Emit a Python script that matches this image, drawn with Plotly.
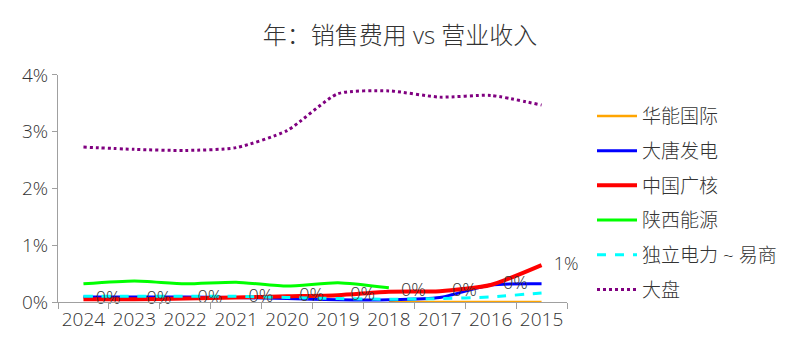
import plotly.graph_objects as go

years = ["2024", "2023", "2022", "2021", "2020", "2019", "2018", "2017", "2016", "2015"]
huaneng = [None, None, None, None, None, None, 0.0000, 0.0000, 0.0000, 0.0000]
datang = [0.0009, 0.0009, 0.0009, 0.0008, 0.0006, 0.0004, 0.0004, 0.0008, 0.0030, 0.0032]
cgn = [0.0005, 0.0005, 0.0006, 0.0008, 0.0010, 0.0012, 0.0018, 0.0019, 0.0030, 0.0065]
shaanxi = [0.0032, 0.0037, 0.0032, 0.0035, 0.0028, 0.0034, 0.0025, None, None, None]
indep = [0.0010, 0.0010, 0.0010, 0.0010, 0.0008, 0.0006, 0.0005, 0.0006, 0.0009, 0.0016]
market = [0.0273, 0.0269, 0.0267, 0.0272, 0.0302, 0.0367, 0.0372, 0.0361, 0.0364, 0.0347]
y_ticks = [0, 0.01, 0.02, 0.03, 0.04]

FONT = "Open Sans, Noto Sans CJK SC"
TXT = "#333333"

series = [
    ("华能国际", huaneng, "#FFA500", 2.5, "solid"),
    ("大唐发电", datang, "#0000FF", 3, "solid"),
    ("中国广核", cgn, "#FF0000", 4, "solid"),
    ("陕西能源", shaanxi, "#00FF00", 3, "solid"),
    ("独立电力 ~ 易商", indep, "#00FFFF", 3, "dash"),
    ("大盘", market, "#800080", 3, "dot"),
]

fig = go.Figure()
for i, (name, vals, color, w, dash) in enumerate(series):
    fig.add_trace(go.Scatter(
        x=years, y=vals, name=name, mode="lines",
        line=dict(color=color, width=w, dash=dash, shape="spline", smoothing=0.6),
        legendgroup=f"g{i}",
    ))

fig.add_trace(go.Scatter(
    x=years, y=cgn, mode="markers+text", showlegend=False,
    marker=dict(size=18, opacity=0),
    texttemplate="%{y:.0%}", textposition="middle right",
    textfont=dict(family=FONT, size=18, color=TXT, weight=300),
    hoverinfo="skip", cliponaxis=False,
))

fig.update_layout(
    width=800, height=353,
    margin=dict(l=58, r=233, t=20, b=20, autoexpand=False),
    paper_bgcolor="white", plot_bgcolor="white",
    font=dict(family=FONT, size=18, color=TXT, weight=300),
    title=dict(text="年：销售费用 vs 营业收入", x=0.5, xref="container", xanchor="center",
               y=0.9, yref="container", yanchor="middle",
               font=dict(family=FONT, size=24, color=TXT, weight=300)),
    legend=dict(x=0.74, xref="container", xanchor="left",
                y=0.725, yref="container", yanchor="top",
                font=dict(family=FONT, size=19, color=TXT, weight=300),
                traceorder="grouped", tracegroupgap=7, itemwidth=40,
                maxheight=320,
                bgcolor="rgba(0,0,0,0)"),
    showlegend=True,
)
fig.update_xaxes(
    type="category", tickson="boundaries", ticks="outside", ticklen=6,
    tickcolor="#A0A0A0", showline=True, linecolor="#A0A0A0", linewidth=1,
    showgrid=False, tickfont=dict(family=FONT, size=19, color=TXT, weight=300),
    tickangle=0, automargin=False, range=[-0.5, 9.5],
)
fig.update_yaxes(
    domain=[0.0990, 0.8243],
    range=[0, 0.04], tickvals=y_ticks, tickformat=".0%", ticks="outside", ticklen=5,
    tickcolor="#A0A0A0", showline=True, linecolor="#A0A0A0", linewidth=1,
    showgrid=False, zeroline=False, automargin=False,
    tickfont=dict(family=FONT, size=19, color=TXT, weight=300),
)

fig.write_html("out.html")
